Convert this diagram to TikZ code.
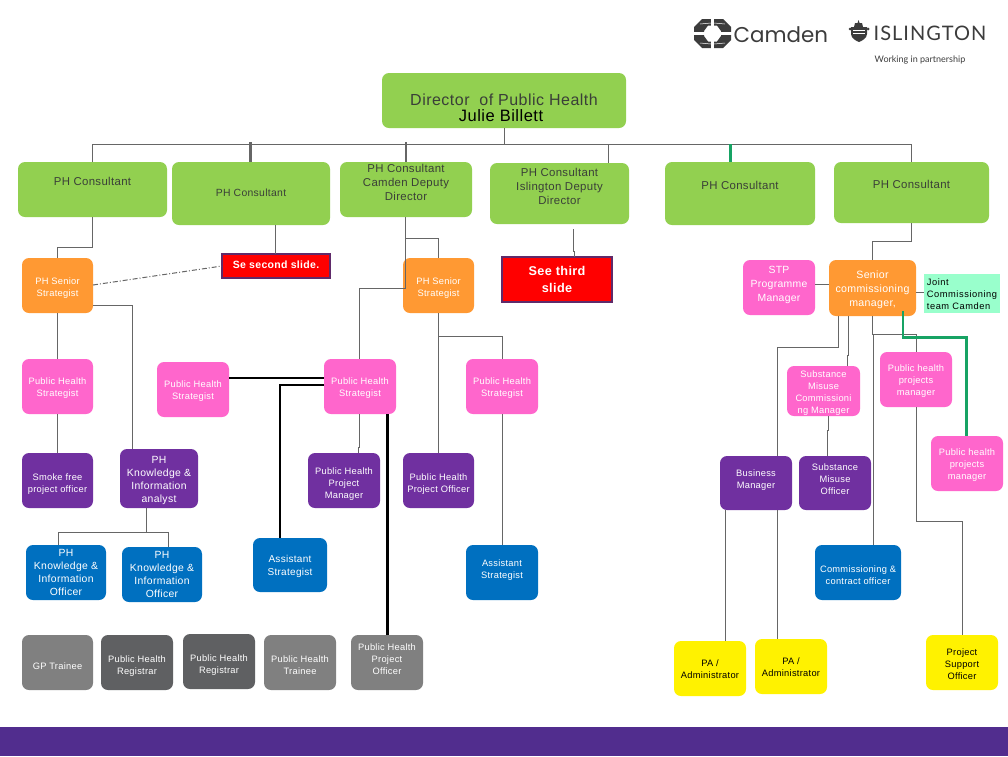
\documentclass[tikz,border=0pt]{standalone}
\usepackage{fontspec}
\setmainfont[LetterSpace=3]{Liberation Sans}
\newfontfamily\logofont{Lato}
\newfontfamily\logofontwide[LetterSpace=5]{Lato}
\newfontfamily\camdenfont{Poppins}
\newfontfamily\jointfont[LetterSpace=6]{Liberation Sans}
\definecolor{cgreen}{HTML}{92D050}
\definecolor{corange}{HTML}{FF9933}
\definecolor{cpink}{HTML}{FF66CC}
\definecolor{cpurple}{HTML}{7030A0}
\definecolor{cblue}{HTML}{0070C0}
\definecolor{cgray}{HTML}{808080}
\definecolor{cdark}{HTML}{5F6062}
\definecolor{cmint}{HTML}{99FFCC}
\definecolor{cline}{HTML}{666666}
\definecolor{cteal}{HTML}{17A364}
\definecolor{cborder}{HTML}{5F2A6A}
\definecolor{cbar}{HTML}{512D8E}
\definecolor{ctxt}{HTML}{3A3F38}
\definecolor{clogo}{HTML}{3C3C3C}
\tikzset{
  base/.style={inner sep=0pt,outer sep=0pt,rounded corners=7pt,align=center,font=\fontsize{9.3}{12}\selectfont,text=white},
  green/.style={base,fill=cgreen,text=ctxt,font=\fontsize{11.4}{14}\selectfont},
  greensm/.style={green,font=\fontsize{10.4}{14}\selectfont},
  orange/.style={base,fill=corange},
  orangebig/.style={orange,font=\fontsize{10.6}{14}\selectfont},
  pink/.style={base,fill=cpink},
  pinkbig/.style={pink,font=\fontsize{10.4}{14}\selectfont},
  purple/.style={base,fill=cpurple},
  purplebig/.style={purple,font=\fontsize{10.4}{13}\selectfont},
  blue/.style={base,fill=cblue},
  bluebig/.style={blue,font=\fontsize{10.4}{13}\selectfont},
  bluemid/.style={blue,font=\fontsize{10}{13}\selectfont},
  gray/.style={base,fill=cgray},
  dark/.style={base,fill=cdark},
  yellow/.style={base,fill=yellow,text=black},
  mint/.style={base,rounded corners=0pt,fill=cmint,text=black},
  alarm/.style={base,rounded corners=0pt,fill=red,draw=cborder,line width=2pt,font=\fontsize{10.5}{12}\bfseries\selectfont},
  alarmbig/.style={alarm,font=\fontsize{12.7}{17}\bfseries\selectfont},
  link/.style={draw=cline,line width=1pt},
  thick black/.style={draw=black,line width=2.8pt},
  tealline/.style={draw=cteal,line width=2.6pt},
  stub/.style={draw=cline,line width=2.6pt},
}
\newcommand{\bx}[8][0]{\node[#7,minimum width={(#5-#3)*1pt},minimum height={(#6-#4)*1pt}] (#2) at ({(#3+#5)/2},{(#4+#6)/2}) {\raisebox{\dimexpr #1pt-0.25em-1.7pt}[0pt][0pt]{\begin{tabular}{@{}c@{}}#8\end{tabular}}};}
\begin{document}
\begin{tikzpicture}[x=1pt,y=-1pt]
\useasboundingbox (0,0) rectangle (1008,756);
\fill[white] (0,0) rectangle (1008,756);
\fill[cbar] (0,727) rectangle (1008,756);
% Camden emblem
\fill[clogo,even odd rule] (702,19) -- (723,19) -- (731,27) -- (731,40) -- (723,48) -- (702,48) -- (694,40) -- (694,27) -- cycle
  (708,25.5) -- (717,25.5) -- (721,31) -- (721,36) -- (717,41.5) -- (708,41.5) -- (704,36) -- (704,31) -- cycle;
\fill[white] (711.3,18) rectangle (713.7,26);
\fill[white] (711.3,41) rectangle (713.7,49);
\fill[white] (693,32) rectangle (704.5,35);
\fill[white] (720.5,32) rectangle (732,35);
\draw[white,line width=0.5pt] (700,24) -- (711,23);
\draw[white,line width=0.5pt] (714,23) -- (725,24);
\draw[white,line width=0.5pt] (700,43) -- (711,44);
\draw[white,line width=0.5pt] (714,44) -- (725,43);
\node[font=\camdenfont\fontsize{21.4}{24}\selectfont,text=clogo,anchor=west,inner sep=0pt] (camdenname) at (733.5,34.5) {Camden};
% Islington crest
\fill[clogo] (851,27) -- (867,27) -- (867,34) .. controls (867,38) and (862,41) .. (859,42) .. controls (856,41) and (851,38) .. (851,34) -- cycle;
\fill[clogo] (854,27) -- (855,23) -- (857.5,23) -- (858.5,20) -- (859.5,23) -- (862,23) -- (863,27) -- cycle;
\fill[clogo] (850,29) circle (1.5);
\fill[clogo] (868,29) circle (1.5);
\draw[white,line width=0.6pt] (853,30) -- (865,30) (853,33.5) -- (865,33.5);
\node[font=\logofontwide\fontsize{20}{24}\selectfont,text=clogo,anchor=west,inner sep=0pt] (islingtonname) at (873.5,33.5) {ISLINGTON};
\node[font=\logofont\fontsize{9}{10}\selectfont,text=clogo,anchor=center,inner sep=0pt] (partnership) at (920,60.5) {Working in partnership};
% boxes
\bx[-7.3]{dir}{382}{73}{626}{128}{green}{{\fontsize{16}{15}\selectfont Director\ \ of Public Health}\\[-0.5pt]{\fontsize{16.5}{15}\selectfont\color{black} Julie Billett\hspace{6pt}}}
\bx[9]{c1}{18}{162}{167}{217}{green}{PH Consultant}
\bx[1.7]{c2}{172}{162}{330}{225}{greensm}{PH Consultant}
\bx[8]{c3}{340}{162}{472}{217}{green}{PH Consultant\\Camden Deputy\\Director}
\bx[7.5]{c4}{490}{163}{629}{224}{green}{PH Consultant\\Islington Deputy\\Director}
\bx[9]{c5}{665}{162}{815}{225}{green}{PH Consultant}
\bx[9]{c6}{834}{162}{989}{223}{green}{PH Consultant}
\bx[1]{alarmone}{222}{254}{330}{278}{alarm}{Se second slide.}
\bx[1]{alarmtwo}{502}{257}{612}{302}{alarmbig}{See third\\slide}
\bx[-1]{s1}{22}{258}{93}{313}{orange}{PH Senior\\Strategist}
\bx[-1]{s3}{403}{258}{474}{313}{orange}{PH Senior\\Strategist}
\bx[4.7]{stp}{743}{260}{815}{315}{pinkbig}{STP\\Programme\\Manager}
\bx{scm}{829}{260}{916}{316}{orangebig}{Senior\\commissioning\\manager,}
\bx{joint}{924}{274}{1000}{313}{mint}{\jointfont\begin{tabular}{@{}l@{}}Joint\\Commissioning\\team Camden\end{tabular}}
\bx{p1}{22}{359}{93}{414}{pink}{Public Health\\Strategist}
\bx{p2}{157}{362}{229}{417}{pink}{Public Health\\Strategist}
\bx{p3}{324}{359}{396}{414}{pink}{Public Health\\Strategist}
\bx{p4}{466}{359}{538}{414}{pink}{Public Health\\Strategist}
\bx{sub}{787}{366}{860}{416}{pink}{Substance\\Misuse\\Commissioni\\ng Manager}
\bx{pm1}{880}{352}{952}{407}{pink}{Public health\\projects\\manager}
\bx{pm2}{931}{436}{1003}{491}{pink}{Public health\\projects\\manager}
\bx[-2]{u1}{22}{453}{93}{508}{purple}{Smoke free\\project officer}
\bx{u2}{120}{449}{198}{508}{purplebig}{PH\\Knowledge \&\\Information\\analyst}
\bx[-2]{u3}{308}{453}{380}{508}{purple}{Public Health\\Project\\Manager}
\bx[-2]{u4}{403}{453}{474}{508}{purple}{Public Health\\Project Officer}
\bx[4.5]{u5}{720}{456}{792}{510}{purple}{Business\\Manager}
\bx[5]{u6}{799}{456}{871}{510}{purple}{Substance\\Misuse\\Officer}
\bx[1]{b1}{26}{545}{106}{600}{bluebig}{PH\\Knowledge \&\\Information\\Officer}
\bx[1]{b2}{122}{547}{202}{602}{bluebig}{PH\\Knowledge \&\\Information\\Officer}
\bx{b3}{253}{538}{327}{592}{bluemid}{Assistant\\Strategist}
\bx[4.5]{b4}{466}{545}{538}{600}{blue}{Assistant\\Strategist}
\bx[-2]{b5}{815}{545}{901}{600}{blue}{Commissioning \&\\contract officer}
\bx[-3]{g1}{22}{635}{93}{690}{gray}{GP Trainee}
\bx[-2]{g2}{101}{635}{173}{690}{dark}{Public Health\\Registrar}
\bx[-2]{g3}{183}{634}{255}{689}{dark}{Public Health\\Registrar}
\bx[-2]{g4}{264}{635}{336}{690}{gray}{Public Health\\Trainee}
\bx[4]{g5}{351}{635}{423}{690}{gray}{Public Health\\Project\\Officer}
\bx{y1}{674}{641}{746}{696}{yellow}{PA /\\Administrator}
\bx{y2}{755}{639}{827}{694}{yellow}{PA /\\Administrator}
\bx[-1]{y3}{926}{635}{998}{690}{yellow}{Project\\Support\\Officer}
% bus
\coordinate (busleft) at (92,144.3);
\coordinate (busright) at (911,144.3);
\draw[link] (dir.south) -- (504,144.3);
\draw[link] (c1.north -| busleft) |- (busright) -- (c6.north -| busright);
\draw[stub] (250.5,142) -- (c2.north -| 250.5,0);
\draw[stub,line width=1.8pt] (406,142) -- (c3.north -| 406,0);
\draw[link] (608,144.3) -- (c4.north -| 608,0);
\draw[tealline] (730.7,144.3) -- (c5.north -| 730.7,0);
% left branch
\draw[link] (c1.south) -- ++(0,30.5) -| (s1.north);
\draw[link] (s1.south) -- (p1.north);
\draw[link] (p1.south) -- (u1.north);
\draw[link] (s1.east |- 0,305) -| (u2.north -| 132.5,0);
\draw[link,dash pattern=on 5pt off 2pt on 1pt off 2pt] (s1.east |- 0,285) -- (alarmone.west);
\draw[link] (u2.south -| 146.5,0) -- (146.5,532);
\draw[link] (b1.north -| 58.5,0) |- (168.5,532) -- (b2.north -| 168.5,0);
\draw[link] (c2.south -| 275.5,0) -- (alarmone.north -| 275.5,0);
% camden deputy
\draw[link] (c3.south -| 405.5,0) -- (405.5,288) -| (p3.north -| 359.5,0);
\draw[link] (405.5,238) -| (s3.north);
\draw[link] (s3.south) -- (u4.north);
\draw[link] (s3.south |- 0,336) -| (p4.north);
\draw[link] (p4.south) -- (b4.north);
\draw[link] (p3.south -| 359.5,0) -- (359.5,447) -- (358.5,447) -- (u3.north -| 358.5,0);
\draw[thick black] (p2.east |- 0,378) -- (p3.west |- 0,378);
\draw[thick black] (p3.west |- 0,385) -| (b3.north -| 280,0);
\draw[thick black] (p3.south -| 387.5,0) -- (g5.north -| 387.5,0);
% islington
\draw[link] (c4.south -| 573.3,0) ++(0,5) -- (573.3,251) -- (574.3,251) -- (alarmtwo.north -| 574.3,0);
% right branch
\draw[link] (c6.south -| 911,0) -- (911,241) -| (scm.north);
\draw[link] (stp.east |- 0,284) -- (scm.west |- 0,284);
\draw[link] (scm.east |- 0,292) -- (joint.west |- 0,292);
\draw[link] (scm.south -| 838.3,0) -- (838.3,347) -| (u5.north -| 777.3,0);
\draw[link] (u5.south -| 777.3,0) -- (y2.north -| 777.3,0);
\draw[link] (u5.south -| 725.3,0) -- (y1.north -| 725.3,0);
\draw[link] (scm.south -| 848.3,0) -- (848.3,355) -- (847.5,355) -- (sub.north -| 847.5,0);
\draw[link] (sub.south -| 828.3,0) -- (828.3,430) -- (827.3,430) -- (u6.north -| 827.3,0);
\draw[link] (scm.south -| 872.3,0) -- (872.3,334) -| (pm1.north -| 916.7,0);
\draw[link] (873.3,334) -- (b5.north -| 873.3,0);
\draw[link] (pm1.south -| 916.7,0) -- (916.7,521) -| (y3.north -| 962.3,0);
\draw[tealline] (scm.south -| 903,0) ++(0,-5) -- (903,337.5) -| (pm2.north -| 966.3,0);
\end{tikzpicture}
\end{document}
